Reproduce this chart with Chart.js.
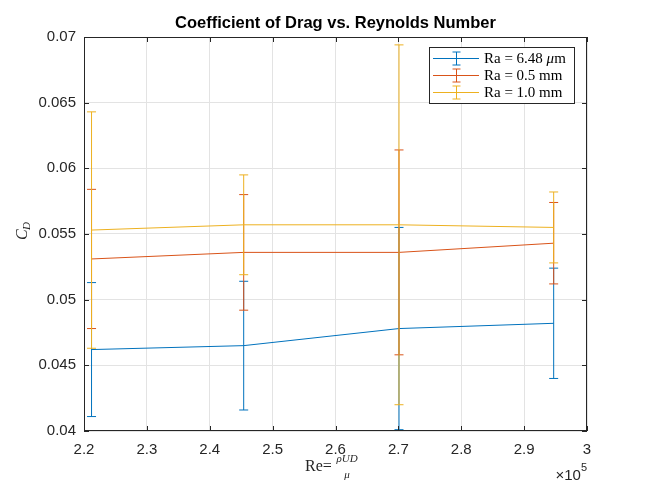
<!DOCTYPE html>
<html lang="en">
<head>
<meta charset="UTF-8">
<title>Coefficient of Drag vs. Reynolds Number</title>
<script src="https://cdn.jsdelivr.net/npm/chart.js"></script>
<style>
  body { margin: 0; background: #fff; }
  #dragChart { display: block; }
</style>
</head>
<body>
<canvas id="dragChart" width="648" height="486"></canvas>
<script>
// data (Re in plain units, C_D and its +/- error)
const reynolds = [221200, 245400, 270100, 294700];
const seriesNames = ['Ra = 6.48 ', 'Ra = 0.5 mm', 'Ra = 1.0 mm'];
const cdSmooth = [0.0462, 0.0465, 0.0478, 0.0482];
const errSmooth = [0.0051, 0.0049, 0.0077, 0.0042];
const cdHalf = [0.0531, 0.0536, 0.0536, 0.0543];
const errHalf = [0.0053, 0.0044, 0.0078, 0.0031];
const cdOne = [0.0553, 0.0557, 0.0557, 0.0555];
const errOne = [0.0090, 0.0038, 0.0137, 0.0027];
const xTickLabels = ['2.2', '2.3', '2.4', '2.5', '2.6', '2.7', '2.8', '2.9', '3'];
const yTickLabels = ['0.04', '0.045', '0.05', '0.055', '0.06', '0.065', '0.07'];

const colors = ['#0072BD', '#D95319', '#EDB120'];
const cdSets = [cdSmooth, cdHalf, cdOne];
const errSets = [errSmooth, errHalf, errOne];
const axisColor = '#262626';
const sans = '"Liberation Sans", Arial, sans-serif';
const serif = '"Liberation Serif", "Times New Roman", serif';

function errorBar(ctx, px, top, bottom, cap) {
  ctx.beginPath();
  ctx.moveTo(px, top); ctx.lineTo(px, bottom);
  ctx.moveTo(px - cap, top); ctx.lineTo(px + cap, top);
  ctx.moveTo(px - cap, bottom); ctx.lineTo(px + cap, bottom);
  ctx.stroke();
}

const matlabLook = {
  id: 'matlabLook',
  afterDatasetDraw(chart, args) {
    const i = args.index;
    const xs = chart.scales.x, ys = chart.scales.y;
    const ctx = chart.ctx;
    ctx.save();
    ctx.strokeStyle = colors[i];
    ctx.lineWidth = 1;
    reynolds.forEach((r, k) => {
      const px = xs.getPixelForValue(r);
      const top = ys.getPixelForValue(cdSets[i][k] + errSets[i][k]);
      const bot = ys.getPixelForValue(cdSets[i][k] - errSets[i][k]);
      errorBar(ctx, px, top, bot, 4.5);
    });
    ctx.restore();
  },
  afterDraw(chart) {
    const ctx = chart.ctx;
    const a = chart.chartArea;
    const xs = chart.scales.x, ys = chart.scales.y;
    ctx.save();

    // box and inward ticks
    ctx.strokeStyle = axisColor;
    ctx.lineWidth = 1;
    ctx.strokeRect(a.left + 0.5, a.top + 0.5, a.right - a.left - 1, a.bottom - a.top - 1);
    ctx.beginPath();
    xs.ticks.forEach(t => {
      const px = Math.round(xs.getPixelForValue(t.value)) + 0.5;
      ctx.moveTo(px, a.bottom); ctx.lineTo(px, a.bottom - 5);
      ctx.moveTo(px, a.top); ctx.lineTo(px, a.top + 5);
    });
    ys.ticks.forEach(t => {
      const py = Math.round(ys.getPixelForValue(t.value)) + 0.5;
      ctx.moveTo(a.left, py); ctx.lineTo(a.left + 5, py);
      ctx.moveTo(a.right, py); ctx.lineTo(a.right - 5, py);
    });
    ctx.stroke();

    // title
    ctx.fillStyle = '#000';
    ctx.font = 'bold 16.5px ' + sans;
    ctx.textAlign = 'center';
    ctx.textBaseline = 'alphabetic';
    ctx.fillText('Coefficient of Drag vs. Reynolds Number', (a.left + a.right) / 2, 28);

    // x label: Re = rho U D / mu
    ctx.fillStyle = axisColor;
    ctx.textAlign = 'left';
    ctx.font = '16px ' + serif;
    ctx.fillText('Re=', 305, 471);
    ctx.textAlign = 'center';
    ctx.font = 'italic 11px ' + serif;
    ctx.fillText('ρUD', 347, 462);
    ctx.fillText('μ', 347, 478);

    // exponent
    ctx.textAlign = 'right';
    ctx.font = '11px ' + sans;
    ctx.fillText('5', a.right, 471);
    const w5 = ctx.measureText('5').width;
    ctx.font = '15px ' + sans;
    ctx.fillText('×10', a.right - w5, 480);

    // y label C_D
    ctx.save();
    ctx.translate(27, 232);
    ctx.rotate(-Math.PI / 2);
    ctx.textAlign = 'left';
    ctx.font = 'italic 16px ' + serif;
    ctx.fillText('C', -8, 0);
    ctx.font = 'italic 11px ' + serif;
    ctx.fillText('D', 2, 3);
    ctx.restore();

    // legend
    const lx = 429, ly = 47, lw = 145, lh = 56;
    ctx.fillStyle = '#fff';
    ctx.fillRect(lx, ly, lw, lh);
    ctx.strokeStyle = axisColor;
    ctx.strokeRect(lx + 0.5, ly + 0.5, lw, lh);
    const rows = [58.5, 75.5, 92.5];
    seriesNames.forEach((name, i) => {
      const ry = rows[i];
      ctx.strokeStyle = colors[i];
      ctx.beginPath();
      ctx.moveTo(433, ry); ctx.lineTo(479, ry);
      ctx.stroke();
      errorBar(ctx, 456.5, ry - 6.5, ry + 6.5, 4);
      ctx.fillStyle = '#000';
      ctx.textAlign = 'left';
      ctx.textBaseline = 'middle';
      ctx.font = '15px ' + serif;
      ctx.fillText(name, 484, ry + 1);
      if (i === 0) {
        let w = ctx.measureText(name).width;
        ctx.font = 'italic 15px ' + serif;
        ctx.fillText('μ', 484 + w, ry + 1);
        w += ctx.measureText('μ').width;
        ctx.font = '15px ' + serif;
        ctx.fillText('m', 484 + w, ry + 1);
      }
    });
    ctx.restore();
  }
};

const datasets = cdSets.map((cd, i) => ({
  label: seriesNames[i],
  data: reynolds.map((r, k) => ({ x: r, y: cd[k] })),
  borderColor: colors[i],
  borderWidth: 1,
  pointRadius: 0,
  tension: 0,
  fill: false,
  order: 3 - i
}));

new Chart(document.getElementById('dragChart'), {
  type: 'line',
  data: { datasets },
  options: {
    responsive: false,
    animation: false,
    devicePixelRatio: 1,
    layout: { padding: { left: 0, right: 61, top: 37, bottom: 0 } },
    plugins: { legend: { display: false }, tooltip: { enabled: false } },
    scales: {
      x: {
        type: 'linear',
        min: 220000, max: 300000,
        afterFit: s => { s.height = 55; },
        grid: { color: '#e3e3e3', drawTicks: false },
        border: { display: false },
        ticks: {
          stepSize: 10000,
          padding: 10,
          color: axisColor,
          font: { family: sans, size: 15 },
          maxRotation: 0,
          callback: (v, i) => xTickLabels[i]
        }
      },
      y: {
        min: 0.04, max: 0.07,
        afterFit: s => { s.width = 84; },
        grid: { color: '#e3e3e3', drawTicks: false },
        border: { display: false },
        ticks: {
          stepSize: 0.005,
          padding: 8,
          color: axisColor,
          font: { family: sans, size: 15 },
          callback: (v, i) => yTickLabels[i]
        }
      }
    }
  },
  plugins: [matlabLook]
});
</script>
</body>
</html>
